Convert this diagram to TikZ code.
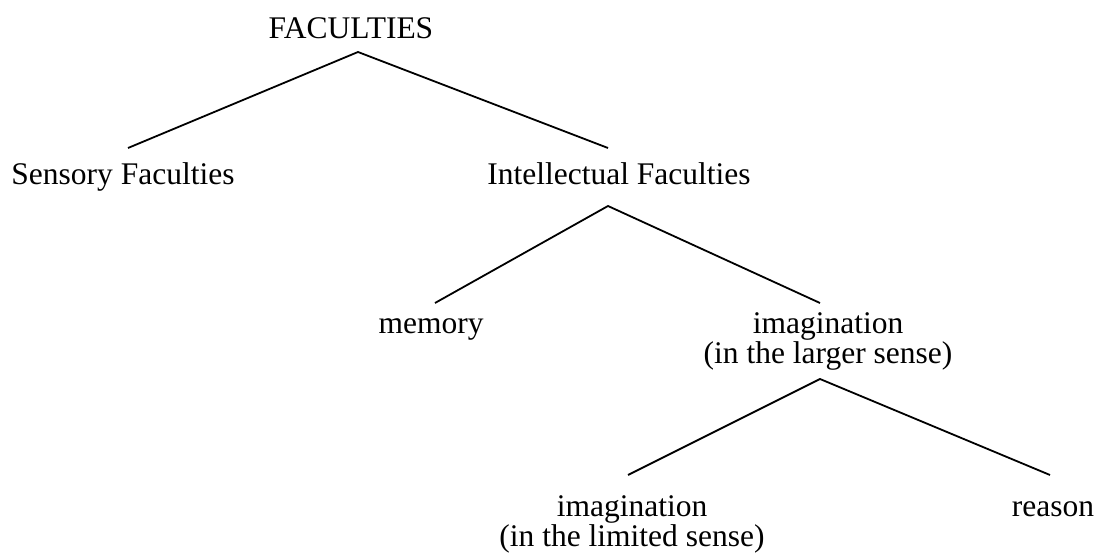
\documentclass[tikz,border=0pt]{standalone}
\usepackage{fontspec}
\setmainfont{Liberation Serif}
\tikzset{
  x=1pt, y=-1pt,
  lbl/.style={inner sep=0pt, anchor=base, font=\fontsize{31.5}{29}\selectfont},
  lbl2/.style={lbl, align=center},
  branch/.style={line width=1.8pt, line cap=butt}
}
\begin{document}
\begin{tikzpicture}
\useasboundingbox (0,0) rectangle (1096,559);
% labels
\node[lbl] (fac) at (351,39) {FACULTIES};
\node[lbl] (sens) at (123,185) {Sensory Faculties};
\node[lbl] (intel) at (619,185) {Intellectual Faculties};
\node[lbl] (mem) at (431,333) {memory};
\node[lbl] (imgL) at (828,333) {\begin{tabular}[t]{@{}c@{}}imagination\\(in the larger sense)\end{tabular}};
\node[lbl] (imgS) at (632,516) {\begin{tabular}[t]{@{}c@{}}imagination\\(in the limited sense)\end{tabular}};
\node[lbl] (reas) at (1053,516) {reason};
% connector ends
\coordinate (facB) at (358,52);
\coordinate (sensT) at (128,148);
\coordinate (intelT) at (608,148);
\coordinate (intelB) at (608,206);
\coordinate (memT) at (435,303);
\coordinate (imgLT) at (820,303);
\coordinate (imgLB) at (820,379);
\coordinate (imgST) at (628,475);
\coordinate (reasT) at (1050,475);
% branches
\draw[branch] (sensT) -- (facB) -- (intelT);
\draw[branch] (memT) -- (intelB) -- (imgLT);
\draw[branch] (imgST) -- (imgLB) -- (reasT);
\end{tikzpicture}
\end{document}
